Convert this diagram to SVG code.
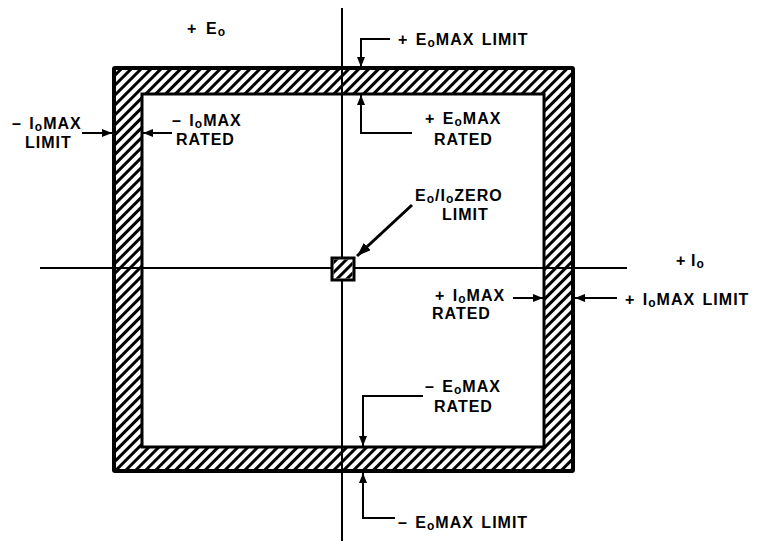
<svg xmlns="http://www.w3.org/2000/svg" width="757" height="541" viewBox="0 0 757 541">
<defs>
<pattern id="hatch" width="7" height="7" patternUnits="userSpaceOnUse" patternTransform="rotate(45)">
<rect x="0" y="0" width="3" height="7" fill="#000"/>
</pattern>
<marker id="ah" viewBox="0 0 10 8" refX="10" refY="4" markerWidth="10" markerHeight="8" markerUnits="userSpaceOnUse" orient="auto">
<path d="M0,0 L10,4 L0,8 Z" fill="#000"/>
</marker>
<marker id="ahb" viewBox="0 0 14 10" refX="14" refY="5" markerWidth="14" markerHeight="10" markerUnits="userSpaceOnUse" orient="auto">
<path d="M0,0 L14,5 L0,10 Z" fill="#000"/>
</marker>
</defs>
<style>
text{font-family:"Liberation Sans",Arial,sans-serif;font-weight:bold;font-size:16px;letter-spacing:1px;word-spacing:2px;fill:#000}
.s{font-size:12px}
.ax{font-size:16px}
.arw{fill:none;stroke:#000;stroke-width:2;marker-end:url(#ah)}
</style>
<rect width="757" height="541" fill="#fff"/>

<g id="envelope">
<path d="M114,68 H573 V471 H114 Z M142,94 V447 H544 V94 Z" fill="url(#hatch)" fill-rule="evenodd"/>
<rect x="114" y="68" width="459" height="403" fill="none" stroke="#000" stroke-width="4" rx="1"/>
<rect x="142" y="94" width="402" height="353" fill="none" stroke="#000" stroke-width="3"/>
</g>

<g id="axes">
<line x1="342" y1="8" x2="342" y2="541" stroke="#000" stroke-width="2"/>
<line x1="40" y1="268" x2="627" y2="268" stroke="#000" stroke-width="2"/>
</g>

<g id="zero-square">
<rect x="332" y="258" width="22" height="22" fill="#fff" stroke="#000" stroke-width="3"/>
<rect x="333.5" y="259.5" width="19" height="19" fill="url(#hatch)"/>
</g>

<g id="connectors">
<polyline class="arw" points="390,39 361,39 361,67"/>
<polyline class="arw" points="412,133 361,133 361,95"/>
<line class="arw" x1="82" y1="133" x2="112" y2="133"/>
<line class="arw" x1="172" y1="133" x2="143" y2="133"/>
<line class="arw" x1="513" y1="298" x2="543" y2="298"/>
<line class="arw" x1="617" y1="298" x2="575" y2="298"/>
<polyline class="arw" points="423,396 363,396 363,446"/>
<polyline class="arw" points="395,518 363,518 363,473"/>
<line x1="412" y1="205" x2="357" y2="256" stroke="#000" stroke-width="3" marker-end="url(#ahb)"/>
</g>

<g id="label-plus-E0"><text x="187" y="34">+</text><text x="206" y="34">E<tspan class="s" dy="2">o</tspan></text></g>
<g id="label-plus-I0"><text class="ax" x="676" y="266">+</text><text class="ax" x="691" y="266">I<tspan class="s" dy="2">o</tspan></text></g>

<g id="label-minus-I0-limit">
<text x="12" y="129">– I<tspan class="s" dy="2">o</tspan><tspan dy="-2">MAX</tspan></text>
<text x="25" y="148">LIMIT</text>
</g>
<g id="label-minus-I0-rated">
<text x="172" y="126">– I<tspan class="s" dy="2">o</tspan><tspan dy="-2">MAX</tspan></text>
<text x="176" y="145">RATED</text>
</g>
<g id="label-plus-E0-limit">
<text x="398" y="45">+ E<tspan class="s" dy="2">o</tspan><tspan dy="-2">MAX LIMIT</tspan></text>
</g>
<g id="label-plus-E0-rated">
<text x="425" y="124">+ E<tspan class="s" dy="2">o</tspan><tspan dy="-2">MAX</tspan></text>
<text x="434" y="145">RATED</text>
</g>
<g id="label-zero-limit">
<text x="415" y="201">E<tspan class="s" dy="2">o</tspan><tspan dy="-2">/I</tspan><tspan class="s" dy="2">o</tspan><tspan dy="-2">ZERO</tspan></text>
<text x="442" y="220">LIMIT</text>
</g>
<g id="label-plus-I0-rated">
<text x="435" y="301">+ I<tspan class="s" dy="2">o</tspan><tspan dy="-2">MAX</tspan></text>
<text x="432" y="319">RATED</text>
</g>
<g id="label-plus-I0-limit">
<text x="625" y="305">+ I<tspan class="s" dy="2">o</tspan><tspan dy="-2">MAX LIMIT</tspan></text>
</g>
<g id="label-minus-E0-rated">
<text x="425" y="392">– E<tspan class="s" dy="2">o</tspan><tspan dy="-2">MAX</tspan></text>
<text x="434" y="412">RATED</text>
</g>
<g id="label-minus-E0-limit">
<text x="398" y="528">– E<tspan class="s" dy="2">o</tspan><tspan dy="-2">MAX LIMIT</tspan></text>
</g>
</svg>
